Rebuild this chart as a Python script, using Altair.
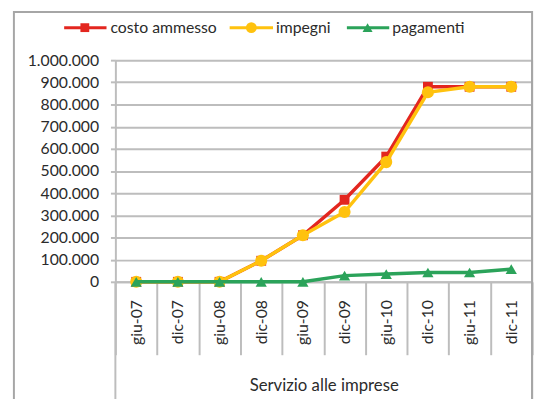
import altair as alt
import pandas as pd

categories = ["giu-07", "dic-07", "giu-08", "dic-08", "giu-09",
              "dic-09", "giu-10", "dic-10", "giu-11", "dic-11"]
costo_ammesso = [0, 0, 0, 95000, 210000, 370000, 565000, 880000, 880000, 880000]
impegni = [0, 0, 0, 95000, 210000, 315000, 540000, 855000, 880000, 880000]
pagamenti = [0, 0, 0, 0, 0, 28000, 35000, 42000, 42000, 57000]

series_names = ["costo ammesso", "impegni", "pagamenti"]
series_values = [costo_ammesso, impegni, pagamenti]
series_colors = ["#E3261F", "#FFC20E", "#2BA35A"]
series_shapes = ["square", "circle", "triangle-up"]
series_sizes = [100, 150, 130]

y_ticks = list(range(0, 1000001, 100000))
x_title = "Servizio alle imprese"

FONT = "Lato"
FS = 16
TXT = "#2b2b2b"
W, H = 423, 225
GRID = "#BDBDBD"

rows = []
for name, vals in zip(series_names, series_values):
    for c, v in zip(categories, vals):
        rows.append({"periodo": c, "serie": name, "valore": v})
df = pd.DataFrame(rows)
one = pd.DataFrame({"k": [0]})

x_enc = alt.X(
    "periodo:N", sort=categories, bandPosition=0.5,
    scale=alt.Scale(type="band", paddingInner=0, paddingOuter=0),
    axis=alt.Axis(
        title=x_title, titleY=105, titleBaseline="middle", titleFont=FONT,
        titleFontSize=17, titleFontWeight="normal", titleColor=TXT,
        labelAngle=270, labelFont=FONT, labelFontSize=FS, labelColor=TXT,
        labelPadding=-56, tickBand="extent", tickSize=74, tickColor=GRID,
        tickWidth=2, domainColor=GRID, domainWidth=2, grid=False,
    ),
)
y_enc = alt.Y(
    "valore:Q", scale=alt.Scale(domain=[0, 1000000], nice=False),
    axis=alt.Axis(
        title=None, values=y_ticks,
        labelExpr="replace(format(datum.value, ','), regexp(',', 'g'), '.')",
        labelFont=FONT, labelFontSize=FS, labelColor=TXT, labelPadding=12,
        tickSize=5, tickColor=GRID, tickWidth=2, domainColor=GRID, domainWidth=2,
        grid=True, gridColor=GRID, gridWidth=2,
    ),
)

layers = []
# outer frame
layers.append(alt.Chart(one).mark_rect(fill=None, stroke="#A6A6A6", strokeWidth=2).encode(
    x=alt.value(-103), x2=alt.value(423), y=alt.value(-49), y2=alt.value(360)))
# left edge of the category axis reaching down
layers.append(alt.Chart(one).mark_rule(color=GRID, strokeWidth=2).encode(
    x=alt.value(0), y=alt.value(H), y2=alt.value(360)))

for name, color, shape, size in zip(series_names, series_colors, series_shapes, series_sizes):
    base = alt.Chart(df).transform_filter(alt.datum.serie == name)
    layers.append(base.mark_line(color=color, strokeWidth=3.5).encode(x=x_enc, y=y_enc))
    layers.append(base.mark_point(filled=True, opacity=1, color=color, shape=shape, size=size)
                  .encode(x=x_enc, y=y_enc))

# custom legend
leg_line_x = [(-52, -9), (116, 160), (235, 278)]
leg_mark_x = [-31, 138, 256]
leg_text_x = [-5, 163, 281]
leg_y = -33
for i, name in enumerate(series_names):
    layers.append(alt.Chart(one).mark_rule(color=series_colors[i], strokeWidth=3).encode(
        x=alt.value(leg_line_x[i][0]), x2=alt.value(leg_line_x[i][1]), y=alt.value(leg_y)))
    layers.append(alt.Chart(one).mark_point(filled=True, opacity=1, color=series_colors[i],
                                            shape=series_shapes[i], size=series_sizes[i] * 0.8).encode(
        x=alt.value(leg_mark_x[i]), y=alt.value(leg_y)))
    layers.append(alt.Chart(one).mark_text(text=name, align="left", baseline="middle", font=FONT,
                                           fontSize=FS, color=TXT).encode(
        x=alt.value(leg_text_x[i]), y=alt.value(leg_y)))

# right border line
layers.append(alt.Chart(one).mark_rule(color="#A6A6A6", strokeWidth=2).encode(
    x=alt.value(W), y=alt.value(0), y2=alt.value(360)))

chart = alt.layer(*layers).properties(
    width=W, height=H,
    autosize=alt.AutoSizeParams(type="none"),
    padding={"left": 109, "top": 50, "right": 6, "bottom": 116},
    background="white",
).configure_view(stroke=None)

chart.save("out.html", embed_options={"renderer": "svg", "actions": False})
